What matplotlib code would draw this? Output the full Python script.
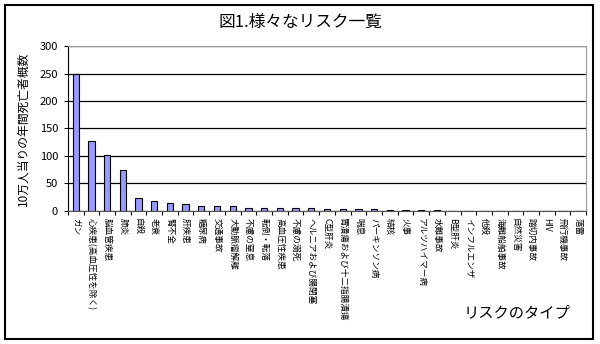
import matplotlib.pyplot as plt
from matplotlib.patches import Rectangle

plt.rcParams['font.family'] = ['Noto Sans CJK JP', 'DejaVu Sans']

risks = ['ガン', '心疾患(高血圧性を除く)', '脳血管疾患', '肺炎', '自殺', '老衰', '腎不全', '肝疾患',
         '糖尿病', '交通事故', '大動脈瘤解離', '不慮の窒息', '転倒・転落', '高血圧性疾患', '不慮の溺死',
         'ヘルニアおよび腸閉塞', 'C型肝炎', '胃潰瘍および十二指腸潰瘍', '喘息', 'パーキンソン病', '結核',
         '火事', 'アルツハイマー病', '水難事故', 'B型肝炎', 'インフルエンザ', '他殺', '海難船舶事故',
         '自然災害', '踏切内事故', 'HIV', '飛行機事故', '落雷']
deaths = [250, 127, 102, 75, 23, 18, 15, 12, 9, 9, 8, 6, 5, 5, 4.5, 4.5, 3, 3, 3, 3, 1.5, 1.5,
          1, 1, 0.5, 0.3, 0.3, 0.2, 0.2, 0.1, 0.1, 0.05, 0.05]
yticks = [0, 50, 100, 150, 200, 250, 300]

fig = plt.figure(figsize=(6, 3.44), dpi=100)
fig.patches.append(Rectangle((0.008, 0.015), 0.98, 0.97, transform=fig.transFigure,
                             fill=False, edgecolor='black', linewidth=1.5))

ax = fig.add_axes([0.113, 0.387, 0.864, 0.479])
x = range(len(risks))
ax.bar(x, deaths, width=0.4, color='#9999FF', edgecolor='black', linewidth=0.8, zorder=3)

ax.set_xlim(-0.5, len(risks) - 0.5)
ax.set_ylim(0, 300)
ax.set_yticks(yticks)
ax.yaxis.grid(True, color='black', linewidth=0.9, zorder=0)
ax.tick_params(axis='y', labelsize=8, length=3, width=0.8, pad=4)

# tick marks between categories, labels at the category centres
ax.set_xticks([i - 0.5 for i in range(len(risks) + 1)])
ax.set_xticklabels([])
ax.set_xticks(list(x), minor=True)
ax.set_xticklabels(risks, minor=True, rotation=270, fontsize=6.2, va='top', ha='center')
ax.tick_params(axis='x', which='major', length=3, width=0.8)
ax.tick_params(axis='x', which='minor', length=0, pad=5)

for side in ['top', 'right']:
    ax.spines[side].set_color('#999999')
ax.spines['left'].set_color('black')
ax.spines['bottom'].set_color('#555555')

ax.set_ylabel('10万人当りの年間死亡者概数', fontsize=8.5, labelpad=7)
fig.text(0.5, 0.935, '図1.様々なリスク一覧', ha='center', va='center', fontsize=12)
fig.text(0.862, 0.09, 'リスクのタイプ', ha='center', va='center', fontsize=11)

fig.savefig('out.png', dpi=100)
